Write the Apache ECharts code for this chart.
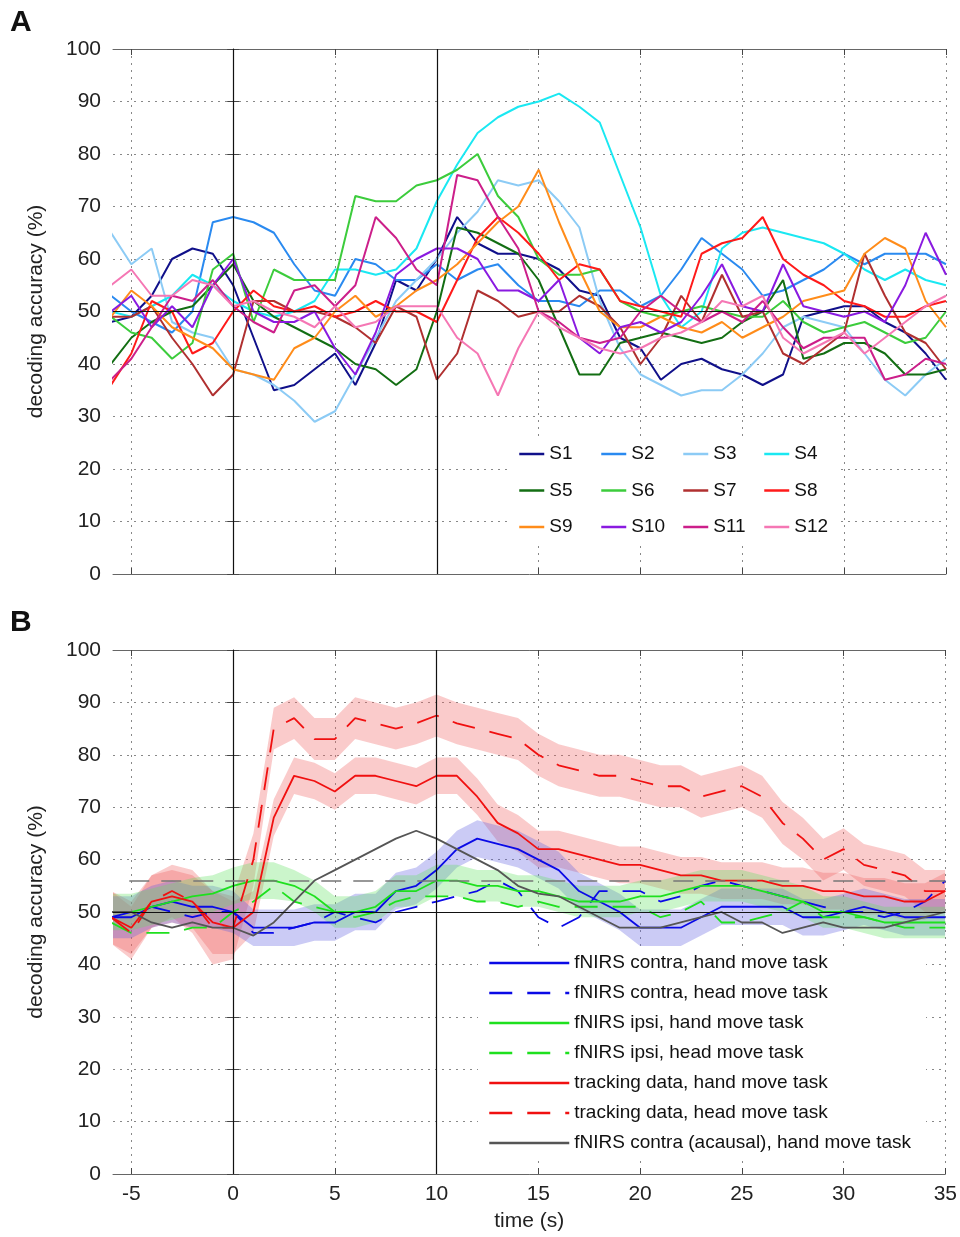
<!DOCTYPE html>
<html>
<head>
<meta charset="utf-8">
<title>decoding accuracy</title>
<script src="https://cdn.jsdelivr.net/npm/echarts@6/dist/echarts.min.js"></script>
<style>
  html, body { margin: 0; padding: 0; background: #fff; }
  #chart { width: 960px; height: 1237px; }
</style>
</head>
<body>
<div id="chart"></div>
<script>
// time (s), one sample per second
var time = [-6, -5, -4, -3, -2, -1,
    0, 1, 2, 3, 4, 5, 6, 7, 8, 9,
    10, 11, 12, 13, 14, 15, 16, 17, 18, 19,
    20, 21, 22, 23, 24, 25, 26, 27, 28, 29,
    30, 31, 32, 33, 34, 35];
var xTicks = [-5, 0, 5, 10, 15, 20, 25, 30, 35];
var yTicks = [0, 10, 20, 30, 40, 50, 60, 70, 80, 90, 100];

// panel A: single subjects
var subjects = ['S1', 'S2', 'S3', 'S4', 'S5', 'S6', 'S7', 'S8', 'S9', 'S10', 'S11', 'S12'];
var s1 = [48, 49, 53, 60, 62, 61,
    55, 45, 35, 36, 39, 42, 36, 44, 56, 54,
    60, 68, 63, 61, 61, 60, 58, 54, 53, 45,
    43, 37, 40, 41, 39, 38, 36, 38, 49, 50,
    51, 51, 48, 46, 42, 37];
var s2 = [53, 50, 48, 46, 50, 67,
    68, 67, 65, 59, 54, 53, 60, 59, 56, 56,
    59, 56, 58, 59, 55, 52, 52, 51, 54, 54,
    51, 53, 58, 64, 61, 58, 53, 54, 56, 58,
    61, 59, 61, 61, 61, 59];
var s3 = [65, 59, 62, 48, 46, 45,
    39, 38, 36, 33, 29, 31, 38, 45, 52, 56,
    60, 65, 69, 75, 74, 75, 71, 66, 52, 43,
    38, 36, 34, 35, 35, 38, 42, 47, 49, 48,
    47, 42, 37, 34, 38, 41];
var s4 = [50, 49, 51, 53, 57, 55,
    52, 50, 49, 50, 52, 58, 58, 57, 58, 62,
    71, 78, 84, 87, 89, 90, 91.5, 89, 86, 76,
    66, 53, 47, 50, 62, 65, 66, 65, 64, 63,
    61, 58, 56, 58, 56, 55];
var s5 = [40, 45, 48, 50, 51, 55,
    59, 52, 49, 47, 45, 43, 40, 39, 36, 39,
    50, 66, 65, 63, 61, 56, 47, 38, 38, 44,
    45, 46, 45, 44, 45, 48, 50, 56, 41, 42,
    44, 44, 42, 38, 38, 39];
var s6 = [49, 46, 45, 41, 44, 58,
    61, 48, 58, 56, 56, 56, 72, 71, 71, 74,
    75, 77, 80, 72, 68, 60, 57, 57, 58, 52,
    50, 49, 50, 51, 50, 49, 49, 52, 48, 46,
    47, 48, 46, 44, 45, 50];
var s7 = [49, 49, 51, 45, 40, 34,
    38, 52, 52, 50, 50, 49, 47, 44, 51, 49,
    37, 42, 54, 52, 49, 50, 50, 53, 51, 47,
    40, 45, 53, 48, 57, 49, 50, 42, 40, 43,
    46, 61, 53, 46, 44, 39];
var s8 = [36, 42, 52, 50, 42, 44,
    50, 54, 51, 50, 51, 49, 50, 52, 50, 50,
    48, 56, 64, 68, 65, 61, 56, 59, 58, 52,
    51, 50, 49, 61, 63, 64, 68, 60, 57, 55,
    52, 51, 49, 49, 51, 52];
var s9 = [49, 54, 51, 47, 45, 43,
    39, 38, 37, 43, 45, 50, 53, 49, 51, 54,
    56, 59, 63, 67, 70, 77, 67, 58, 50, 47,
    47, 49, 47, 46, 48, 45, 47, 49, 52, 53,
    54, 61, 64, 62, 52, 47];
var s10 = [50, 53, 47, 51, 47, 55,
    60, 50, 48, 48, 50, 43, 38, 46, 57, 60,
    62, 62, 60, 54, 54, 52, 56, 45, 42, 47,
    48, 46, 48, 53, 59, 51, 50, 59, 51, 50,
    49, 50, 48, 55, 65, 57];
var s11 = [37, 41, 47, 53, 52, 56,
    51, 48, 46, 54, 55, 51, 55, 68, 64, 58,
    55, 76, 75, 68, 62, 50, 48, 45, 44, 45,
    50, 53, 50, 48, 50, 48, 52, 47, 43, 45,
    45, 45, 37, 38, 41, 40];
var s12 = [55, 58, 53, 53, 56, 55,
    51, 52, 50, 49, 47, 51, 47, 48, 51, 51,
    51, 45, 42, 34, 43, 50, 47, 45, 43, 42,
    43, 45, 46, 48, 52, 51, 53, 45, 42, 44,
    46, 42, 45, 48, 51, 53];
var subjectData = [s1, s2, s3, s4, s5, s6, s7, s8, s9, s10, s11, s12];
var subjectColors = ['#10108a', '#2a8af0', '#8ccbf5', '#1ae8f2', '#136e13', '#3ccc3c',
    '#b03030', '#ff1a1a', '#ff8c1a', '#8a1ae0', '#cc1f8a', '#f577b4'];

// panel B: group averages
var groupNames = ['fNIRS contra, hand move task', 'fNIRS contra, head move task',
    'fNIRS ipsi, hand move task', 'fNIRS ipsi, head move task',
    'tracking data, hand move task', 'tracking data, head move task',
    'fNIRS contra (acausal), hand move task'];
var contraHand = [49, 49, 51, 52, 51, 51,
    50, 47, 47, 47, 48, 48, 50, 50, 54, 55,
    58, 62, 64, 63, 62, 60, 58, 54, 52, 50,
    47, 47, 47, 49, 51, 51, 51, 51, 49, 49,
    50, 51, 50, 49, 49, 49];
var contraHead = [49, 50, 51, 50, 49, 50,
    50, 46, 46, 47, 48, 50, 49, 48, 50, 51,
    52, 53, 54, 56, 54, 49, 47, 49, 54, 54,
    54, 52, 53, 55, 56, 55, 54, 53, 52, 51,
    50, 50, 49, 50, 52, 56];
var ipsiHand = [50, 50, 51, 52, 53, 53.5,
    55, 56, 56, 55, 53, 50, 50, 51, 54, 54,
    56, 56, 55, 55, 54, 54, 53, 52, 52, 52,
    53, 53, 54, 55, 55, 55, 54, 53, 52, 50,
    50, 49, 48, 48, 48, 48];
var ipsiHead = [48, 46, 46, 46, 47, 47,
    50, 52, 55, 52, 51, 50, 49, 50, 52, 53,
    53, 53, 52, 52, 51, 52, 51, 51, 51, 51,
    51, 49, 50, 52, 48, 48, 49, 50, 52, 49,
    49, 49, 48, 47, 47, 47];
var trackHand = [49, 47, 52, 53, 52, 48,
    47, 50, 68, 76, 75, 73, 76, 76, 75, 74,
    76, 76, 72, 67, 65, 62, 62, 61, 60, 59,
    59, 58, 57, 57, 56, 56, 56, 55, 55, 54,
    54, 53, 53, 52, 52, 54];
var trackHead = [49, 46, 52, 54, 52, 47,
    47, 60, 85, 87, 83, 83, 87, 86, 85, 86,
    87.5, 86, 85, 84, 83, 80, 78, 77, 76, 76,
    75, 74, 74, 72, 73, 74, 72, 67, 64, 60,
    62, 59, 58, 57, 54, 54];
var acausal = [50, 50, 48, 47, 48, 47,
    47, 45.5, 48, 52, 56, 58, 60, 62, 64, 65.5,
    64, 62, 60, 58, 55, 53.5, 53, 51, 49, 47,
    47, 47, 48, 49, 50, 48, 48, 46, 47, 48,
    47, 47, 47, 48, 49, 50];
// half widths of the shaded bands
var trackHeadSem = [5, 5, 5, 5, 6, 7,
    6, 5, 4, 4, 4, 4, 4, 4, 4, 4,
    4, 4, 4, 4, 4, 4, 4, 4, 4, 4,
    4, 4, 4, 4, 4, 4, 4, 4, 4, 4,
    4, 4, 4, 4, 4, 4];
var trackHandSem = [5, 5, 5, 5, 5, 6,
    5, 4, 3.5, 3.5, 3.5, 3.5, 3.5, 3.5, 3.5, 3.5,
    3.5, 3.5, 3.5, 3.5, 3.5, 3.5, 3.5, 3.5, 3.5, 3.5,
    3.5, 3.5, 3.5, 3.5, 3.5, 3.5, 3.5, 3.5, 3.5, 3.5,
    3.5, 3.5, 3.5, 3.5, 3.5, 3.5];
var contraHandSem = [4, 4, 4, 4, 4, 4,
    4, 3.5, 3.5, 3.5, 3.5, 3.5, 3.5, 3.5, 3.5, 3.5,
    3.5, 3.5, 3.5, 3.5, 3.5, 3.5, 3.5, 3.5, 3.5, 3.5,
    3.5, 3.5, 3.5, 3.5, 3.5, 3.5, 3.5, 3.5, 3.5, 3.5,
    3.5, 3.5, 3.5, 3.5, 3.5, 3.5];
var ipsiHandSem = [3.5, 3.5, 3.5, 3.5, 3.5, 3.5,
    3.5, 3.5, 3.5, 3, 3, 3, 3, 3, 3, 3,
    3, 3, 3, 3, 3, 3, 3, 3, 3, 3,
    3, 3, 3, 3, 3, 3, 3, 3, 3, 3,
    3, 3, 3, 3, 3, 3];

var font = 'Liberation Sans, Arial, sans-serif';

function pairs(vals) {
    return time.map(function (t, i) { return [t, vals[i]]; });
}

function xAxisFor(grid, position, withLabels) {
    return {
        type: 'value', gridIndex: grid, position: position,
        min: -5.9, max: 35,
        axisLine: { show: true, onZero: false, lineStyle: { color: '#666', width: 1 } },
        axisTick: { show: true, inside: true, length: 6, customValues: xTicks, lineStyle: { color: '#444' } },
        axisLabel: { show: withLabels, customValues: xTicks, fontSize: 21, color: '#222', margin: 10, fontFamily: font },
        splitLine: { show: position === 'bottom', lineStyle: { type: [2, 5], color: '#888' } },
        name: withLabels ? 'time (s)' : '',
        nameLocation: 'middle', nameGap: 37,
        nameTextStyle: { fontSize: 21, color: '#222', fontFamily: font }
    };
}

function yAxisFor(grid, position) {
    var left = position === 'left';
    return {
        type: 'value', gridIndex: grid, position: position,
        min: 0, max: 100, interval: 10,
        axisLine: { show: true, lineStyle: { color: '#666', width: 1 } },
        axisTick: { show: true, inside: true, length: 6, lineStyle: { color: '#444' } },
        axisLabel: { show: left, fontSize: 21, color: '#222', margin: 12, fontFamily: font },
        splitLine: { show: left, lineStyle: { type: [2, 5], color: '#888' } },
        name: left ? 'decoding accuracy (%)' : '',
        nameLocation: 'middle', nameGap: 66, nameRotate: 90,
        nameTextStyle: { fontSize: 21, color: '#222', fontFamily: font }
    };
}

var series = [];

// reference lines of each panel
function refLines(xi, yi, withChance) {
    var marks = {
        type: 'line', xAxisIndex: xi, yAxisIndex: yi, data: [[0, 50]],
        symbol: 'none', lineStyle: { opacity: 0 }, silent: true, z: 2,
        markLine: {
            silent: true, symbol: 'none', label: { show: false },
            lineStyle: { color: '#111', width: 1.2, type: 'solid' },
            data: [{ xAxis: 0 }, { xAxis: 10 }, { yAxis: 50 }]
        }
    };
    if (withChance) {
        marks.markLine.data.push([
            { coord: [-5.1, 56], lineStyle: { color: '#777', width: 1.5, type: [20, 12] } },
            { coord: [35, 56] }
        ]);
    }
    series.push(marks);
}

refLines(0, 0, false);

subjects.forEach(function (name, i) {
    series.push({
        name: name, type: 'line', xAxisIndex: 0, yAxisIndex: 0,
        data: pairs(subjectData[i]), symbol: 'none', color: subjectColors[i],
        lineStyle: { width: 2 }, z: 3
    });
});

// shaded band (mean +- half width), drawn as one polygon through the axes
function band(mean, sem, fill) {
    series.push({
        type: 'custom', xAxisIndex: 2, yAxisIndex: 2, silent: true, z: 2,
        data: [[0, 50]],
        renderItem: function (params, api) {
            var upper = time.map(function (t, i) { return api.coord([t, mean[i] + sem[i]]); });
            var lower = time.map(function (t, i) { return api.coord([t, mean[i] - sem[i]]); }).reverse();
            var cs = params.coordSys;
            return {
                type: 'polygon',
                shape: { points: upper.concat(lower) },
                style: { fill: fill },
                clipPath: { type: 'rect', shape: { x: cs.x, y: cs.y, width: cs.width, height: cs.height } }
            };
        }
    });
}

band(trackHead, trackHeadSem, 'rgba(240,96,96,0.33)');
band(trackHand, trackHandSem, 'rgba(240,96,96,0.33)');
band(contraHand, contraHandSem, 'rgba(96,96,224,0.33)');
band(ipsiHand, ipsiHandSem, 'rgba(96,224,96,0.33)');

refLines(2, 2, true);

var groupData = [contraHand, contraHead, ipsiHand, ipsiHead, trackHand, trackHead, acausal];
var groupColors = ['#0a0ae6', '#0a0ae6', '#1ee01e', '#1ee01e', '#f01010', '#f01010', '#555555'];
var groupDashed = [false, true, false, true, false, true, false];

groupNames.forEach(function (name, i) {
    series.push({
        name: name, type: 'line', xAxisIndex: 2, yAxisIndex: 2,
        data: pairs(groupData[i]), symbol: 'none', color: groupColors[i],
        lineStyle: { width: 1.8, type: groupDashed[i] ? [23, 15] : 'solid' }, z: 3
    });
});

// legend columns of panel A
var colLeft = [518, 600, 682, 763];
var legends = colLeft.map(function (left, c) {
    return {
        data: subjects.filter(function (s, i) { return i % 4 === c; }),
        orient: 'vertical', left: left, top: 444, padding: 0,
        itemWidth: 25, itemHeight: 12, itemGap: 16.5, selectedMode: false,
        itemStyle: { opacity: 0 }, lineStyle: { width: 2.5 },
        textStyle: { fontSize: 19, lineHeight: 20, color: '#111', fontFamily: font }
    };
});
legends.push({
    data: groupNames, orient: 'vertical', left: 488, top: 953, padding: 0,
    itemWidth: 80, itemHeight: 12, itemGap: 10, selectedMode: false,
    itemStyle: { opacity: 0 }, lineStyle: { width: 2.5 },
    textStyle: { fontSize: 19, lineHeight: 20, color: '#111', fontFamily: font }
});

var chart = echarts.init(document.getElementById('chart'));
chart.setOption({
    animation: false,
    backgroundColor: '#fff',
    grid: [
        { left: 113, top: 49, width: 833, height: 525 },
        { left: 113, top: 650, width: 833, height: 524 }
    ],
    xAxis: [xAxisFor(0, 'bottom', false), xAxisFor(0, 'top', false),
        xAxisFor(1, 'bottom', true), xAxisFor(1, 'top', false)],
    yAxis: [yAxisFor(0, 'left'), yAxisFor(0, 'right'),
        yAxisFor(1, 'left'), yAxisFor(1, 'right')],
    legend: legends,
    graphic: [
        { type: 'rect', left: 508, top: 436, z: 1, silent: true,
          shape: { width: 330, height: 108 }, style: { fill: '#fff' } },
        { type: 'rect', left: 478, top: 948, z: 1, silent: true,
          shape: { width: 448, height: 210 }, style: { fill: '#fff' } },
        { type: 'text', left: 10, top: 8, z: 5,
          style: { text: 'A', font: 'bold 30px Liberation Sans', fill: '#111' } },
        { type: 'text', left: 10, top: 608, z: 5,
          style: { text: 'B', font: 'bold 30px Liberation Sans', fill: '#111' } }
    ],
    series: series
});
</script>
</body>
</html>
